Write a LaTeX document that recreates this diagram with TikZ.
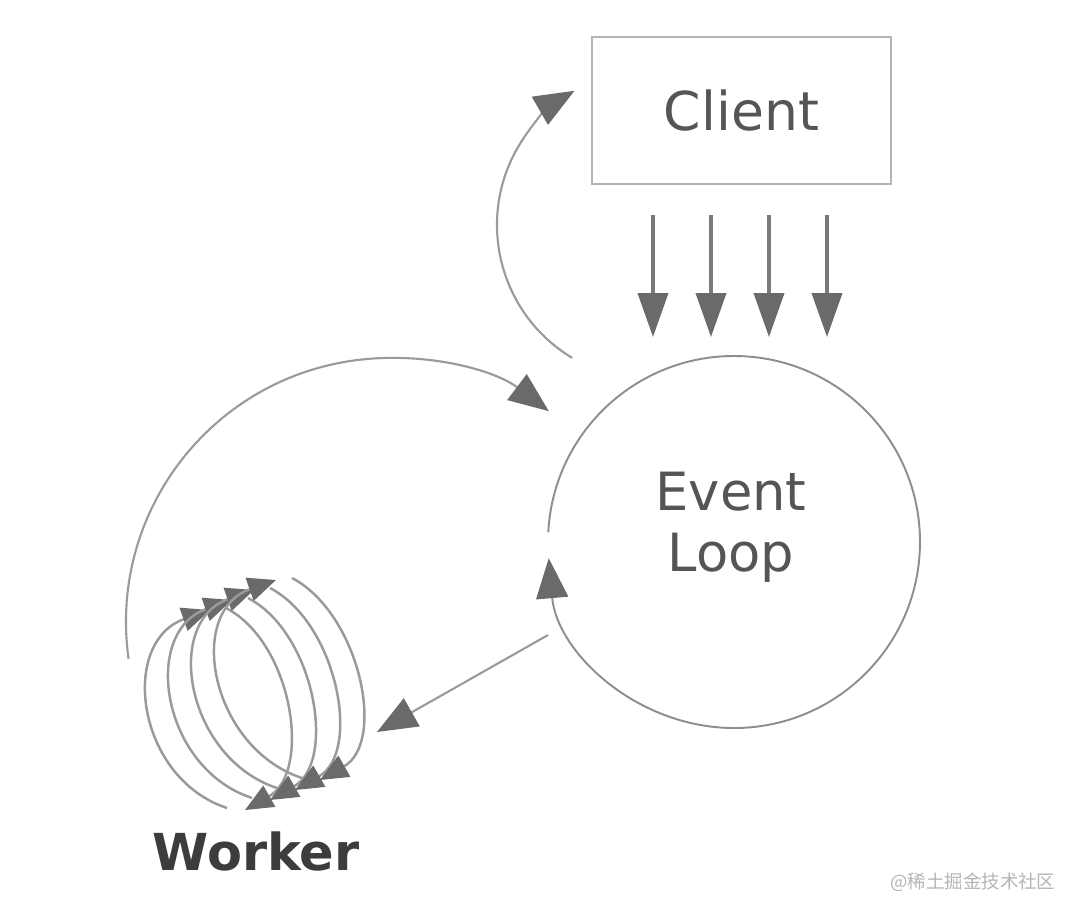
\documentclass[tikz,border=0pt]{standalone}
\usepackage{fontspec}
\setmainfont{DejaVu Sans}
\newfontfamily\cjk{Noto Sans CJK SC}
\usetikzlibrary{arrows.meta,calc}
\definecolor{linegray}{HTML}{9A9A9A}
\definecolor{circgray}{HTML}{8E8E8E}
\definecolor{headgray}{HTML}{6A6A6A}
\definecolor{stemgray}{HTML}{7A7A7A}
\definecolor{boxgray}{HTML}{B4B4B4}
\definecolor{textgray}{HTML}{555555}
\definecolor{workergray}{HTML}{3C3C3C}
\definecolor{wmgray}{HTML}{B5B5B5}
\begin{document}
\begin{tikzpicture}[x=0.02cm,y=-0.02cm,
  clientbox/.style={draw=boxgray,line width=1.1pt,minimum width=5.98cm,minimum height=2.94cm,
    text=textgray,font=\fontsize{30.5}{36}\selectfont,inner sep=0pt},
  labeltext/.style={text=textgray,font=\fontsize{30}{34}\selectfont,anchor=base,inner sep=0pt},
  bigarrow/.style={draw=linegray,line width=1.2pt,
    -{Triangle[length=0.8cm,width=0.64cm,color=headgray]}},
  downarrow/.style={draw=stemgray,line width=2.2pt,
    -{Triangle[length=0.88cm,width=0.6cm,color=headgray]}},
  circline/.style={draw=circgray,line width=1.1pt},
  workarrow/.style={draw=linegray,line width=1.4pt,
    -{Triangle[length=0.56cm,width=0.48cm,color=headgray]}}
]
\useasboundingbox (0,0) rectangle (1076,914);
\fill[white] (0,0) rectangle (1076,914);

% Client box
\node[clientbox] (client) at (741.5,110.5) {Client};

% Event Loop label
\node[labeltext] (evt) at (731,510) {Event};
\node[labeltext] (lp) at (731,571) {Loop};

% Event loop circle (open arc with arrowhead)
\coordinate (loopc) at (734,542);
\draw[bigarrow,draw=circgray,line width=1.1pt] (loopc) ++(183:186) arc[start angle=183,end angle=535,radius=186];

% four requests from client to event loop
\foreach \xx in {653,711,769,827}{
  \coordinate (rq\xx) at (\xx,215);
  \coordinate (rt\xx) at (\xx,337);
  \draw[downarrow] (rq\xx) -- (rt\xx);
}

% arc back to client
\coordinate (ca) at (652,225);
\draw[bigarrow] (ca) ++(121:155) arc[start angle=121,end angle=240,radius=155];

% big arc from worker to event loop
\coordinate (ba) at (390,622);
\draw[bigarrow] (ba) ++(172:264) arc[start angle=172,end angle=307,radius=264];

% event loop to worker
\coordinate (ew1) at (548,635);
\coordinate (ew2) at (377,732);
\draw[bigarrow] (ew1) -- (ew2);

% worker loops
\foreach \k in {0,1,2,3}{
  \coordinate (wl\k) at ({227+25*\k},{808-10*\k});
  \coordinate (wt\k) at ({210+22*\k},{610-10*\k});
  \coordinate (wr\k) at ({226+22*\k},{608-10*\k});
  \coordinate (wb\k) at ({245+25*\k},{810-10*\k});
  \draw[workarrow] (wl\k) .. controls +(-91,-30) and +(-91,32) .. (wt\k);
  \draw[workarrow] (wr\k) .. controls +(67,35) and +(67,-38) .. (wb\k);
}

% Worker label
\node[text=workergray,font=\bfseries\fontsize{29}{34}\selectfont,anchor=base,inner sep=0pt] (worker) at (256,870) {Worker};

% watermark
\node[text=wmgray,font=\cjk\fontsize{10.5}{12}\selectfont,anchor=base west,inner sep=0pt] (wm) at (890,888) {@稀土掘金技术社区};
\end{tikzpicture}
\end{document}
